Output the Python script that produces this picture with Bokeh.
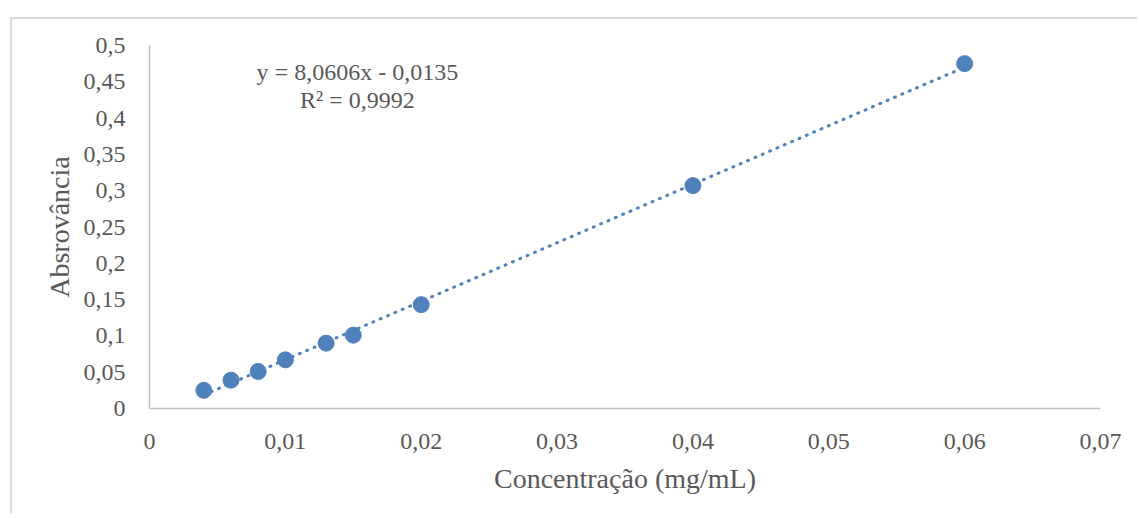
from bokeh.plotting import figure
from bokeh.models import FixedTicker, Range1d, Label, ColumnDataSource
from bokeh.embed import file_html
from bokeh.resources import INLINE

# Data
conc = [0.004, 0.006, 0.008, 0.010, 0.013, 0.015, 0.020, 0.040, 0.060]
absorb = [0.025, 0.039, 0.051, 0.067, 0.090, 0.101, 0.143, 0.307, 0.475]
slope = 8.0606
intercept = -0.0135
x_ticks = [0, 0.01, 0.02, 0.03, 0.04, 0.05, 0.06, 0.07]
x_labels = ["0", "0,01", "0,02", "0,03", "0,04", "0,05", "0,06", "0,07"]
y_ticks = [0, 0.05, 0.1, 0.15, 0.2, 0.25, 0.3, 0.35, 0.4, 0.45, 0.5]
y_labels = ["0", "0,05", "0,1", "0,15", "0,2", "0,25", "0,3", "0,35", "0,4", "0,45", "0,5"]
eq_text = "y = 8,0606x - 0,0135"
r2_text = "R² = 0,9992"
x_title = "Concentração (mg/mL)"
y_title = "Absrovância"

FONT = "Liberation Serif"
TXT = "#595959"
BLUE = "#4F81BD"
AXC = "#bfbfbf"

p = figure(width=1127, height=496, output_backend="svg", toolbar_location=None,
           x_range=Range1d(0, 0.07), y_range=Range1d(0, 0.5),
           min_border_left=137, min_border_top=26, min_border_right=39, min_border_bottom=107)
p.styles = {"border-left": "2px solid #d9d9d9", "border-top": "2px solid #d9d9d9",
            "margin-left": "10px", "margin-top": "17px"}
p.outline_line_color = None
p.xgrid.visible = False
p.ygrid.visible = False
p.background_fill_color = "white"
p.border_fill_color = "white"

for ax, ticks, labels in ((p.xaxis[0], x_ticks, x_labels), (p.yaxis[0], y_ticks, y_labels)):
    ax.ticker = FixedTicker(ticks=ticks)
    ax.major_label_overrides = {t: l for t, l in zip(ticks, labels)}
    ax.major_tick_line_color = None
    ax.minor_tick_line_color = None
    ax.major_tick_out = 0
    ax.major_tick_in = 0
    ax.axis_line_color = AXC
    ax.axis_line_width = 1.5
    ax.major_label_text_font = FONT
    ax.major_label_text_font_size = "24px"
    ax.major_label_text_color = TXT
    ax.axis_label_text_font = FONT
    ax.axis_label_text_font_size = "28px"
    ax.axis_label_text_font_style = "normal"
    ax.axis_label_text_color = TXT

p.xaxis.axis_label = x_title
p.yaxis.axis_label = y_title
p.xaxis.major_label_standoff = 25
p.yaxis.major_label_standoff = 24
p.xaxis.axis_label_standoff = 11
p.yaxis.axis_label_standoff = 6

# trendline
x0, x1 = min(conc), max(conc)
p.line([x0, x1], [slope * x0 + intercept, slope * x1 + intercept],
       line_color=BLUE, line_width=3, line_dash="1 7", line_cap="round")

src = ColumnDataSource(dict(x=conc, y=absorb))
p.scatter("x", "y", source=src, size=16, fill_color=BLUE, line_color=BLUE)

p.add_layout(Label(x=0.0153, y=0.4638, text=eq_text, text_align="center", text_baseline="middle",
                   text_font=FONT, text_font_size="24px", text_color=TXT))
p.add_layout(Label(x=0.0153, y=0.425, text=r2_text, text_align="center", text_baseline="middle",
                   text_font=FONT, text_font_size="24px", text_color=TXT))

open("out.html", "w").write(file_html(p, INLINE))
